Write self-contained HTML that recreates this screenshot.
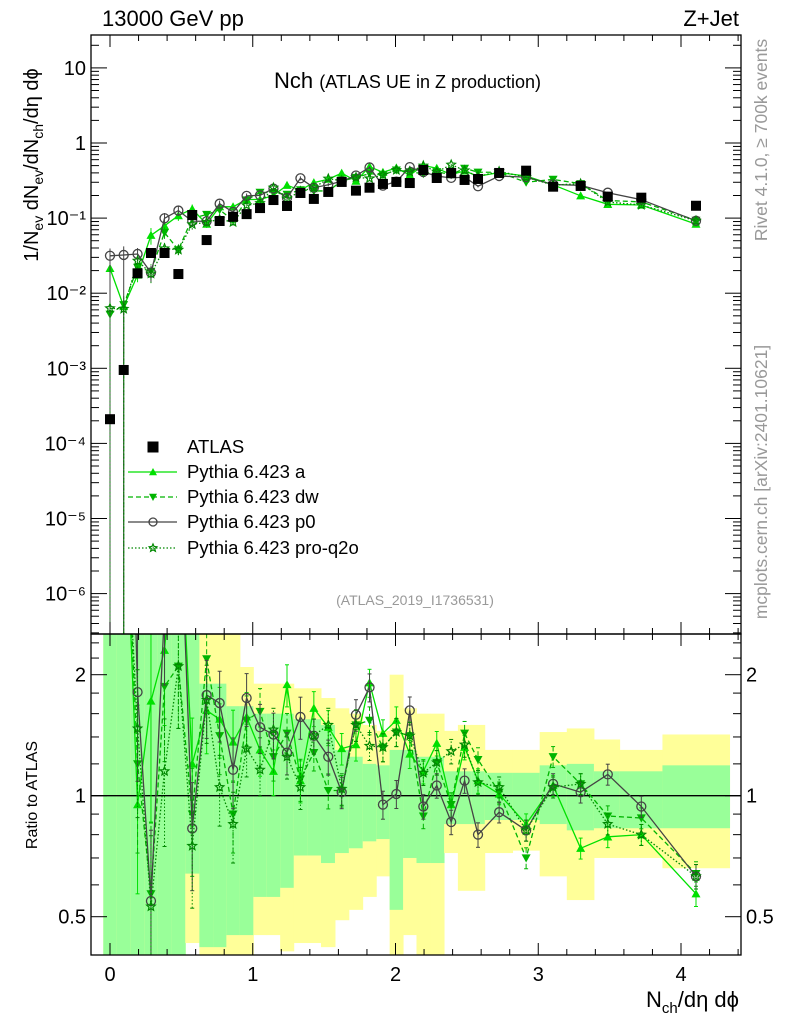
<!DOCTYPE html>
<html><head><meta charset="utf-8"><style>
html,body{margin:0;padding:0;background:#fff}
svg{display:block;font-family:"Liberation Sans",sans-serif}
</style></head><body>
<svg id="c" width="786" height="1024" viewBox="0 0 786 1024" xmlns="http://www.w3.org/2000/svg">
<g id="bands"></g>
<g id="marks"></g>
<g id="axes"></g>
<text x="102" y="26" font-size="22">13000 GeV pp</text>
<text x="739" y="26" font-size="22" text-anchor="end">Z+Jet</text>
<text x="274" y="88" font-size="22">Nch <tspan font-size="18">(ATLAS UE in Z production)</tspan></text>
<text x="415" y="605" font-size="14" fill="#999" text-anchor="middle">(ATLAS_2019_I1736531)</text>
<text transform="translate(767,140) rotate(-90)" font-size="17.5" fill="#999" text-anchor="middle">Rivet 4.1.0, ≥ 700k events</text>
<text transform="translate(767,482) rotate(-90)" font-size="17.5" fill="#999" text-anchor="middle">mcplots.cern.ch [arXiv:2401.10621]</text>
<text transform="translate(38,165) rotate(-90)" font-size="20" text-anchor="middle">1/N<tspan font-size="14" dy="5">ev</tspan><tspan dy="-5"> dN</tspan><tspan font-size="14" dy="5">ev</tspan><tspan dy="-5">/dN</tspan><tspan font-size="14" dy="5">ch</tspan><tspan dy="-5">/dη dϕ</tspan></text>
<text transform="translate(37,795) rotate(-90)" font-size="16" text-anchor="middle">Ratio to ATLAS</text>
<text x="739" y="1007" font-size="22" text-anchor="end">N<tspan font-size="15" dy="6">ch</tspan><tspan dy="-6">/dη dϕ</tspan></text>
<g id="legend"></g>
</svg>
<script>
const xs=[0.0,0.096,0.193,0.287,0.382,0.479,0.576,0.677,0.768,0.862,0.957,1.051,1.145,1.24,1.334,1.428,1.529,1.623,1.723,1.818,1.912,2.006,2.1,2.195,2.289,2.39,2.484,2.578,2.726,2.915,3.104,3.297,3.487,3.722,4.105];
const edges=[-0.047,0.048,0.145,0.24,0.335,0.43,0.527,0.626,0.722,0.815,0.91,1.004,1.098,1.192,1.287,1.381,1.478,1.576,1.673,1.77,1.865,1.959,2.053,2.147,2.242,2.34,2.437,2.531,2.625,2.82,3.01,3.2,3.39,3.57,3.87,4.34];
const atlas=[2.1e-4,9.5e-4,0.0184,0.0343,0.0343,0.018,0.110,0.051,0.0915,0.104,0.113,0.136,0.174,0.145,0.216,0.180,0.223,0.303,0.232,0.254,0.285,0.303,0.293,0.437,0.342,0.399,0.322,0.332,0.399,0.428,0.262,0.268,0.193,0.187,0.146];
const ratioA=[102,7,0.95,1.72,2.3,6,1.2,1.63,1.55,1.36,1.57,1.3,1.15,1.89,1.09,1.65,1.48,1.31,1.34,1.91,1.43,1.54,1.27,1.15,1.35,0.95,1.32,1.09,1.01,0.85,1.06,0.74,0.79,0.80,0.57];
const ratioDW=[25,7.4,1.2,0.57,1.87,2.1,0.90,2.19,1.41,0.90,1.54,1.62,1.25,1.43,1.1,1.28,1.03,1.03,1.50,1.54,1.32,1.44,1.41,0.89,1.21,0.95,1.43,1.23,1.02,0.70,1.25,1.07,0.89,0.88,0.64];
const ratioP0=[150,34,1.81,0.547,2.9,7,0.829,1.78,1.70,1.16,1.75,1.48,1.42,1.28,1.57,1.41,1.25,1.02,1.59,1.86,0.95,1.01,1.63,0.94,1.06,0.86,1.09,0.80,0.91,0.82,1.07,1.02,1.13,0.94,0.63];
const ratioQ2O=[30,6.5,1.47,0.53,1.15,2.1,0.75,1.73,1.05,0.85,1.31,1.16,1.46,1.25,1.05,1.41,1.50,1.04,1.50,1.33,1.32,1.44,1.41,1.14,1.21,1.29,1.34,1.08,1.05,0.82,1.05,1.07,0.85,0.80,0.63];
const mcErr=[0.5,0.6,0.4,0.5,0.35,0.3,0.3,0.22,0.2,0.2,0.15,0.14,0.13,0.12,0.12,0.1,0.1,0.09,0.09,0.08,0.08,0.08,0.08,0.07,0.07,0.07,0.07,0.07,0.06,0.06,0.06,0.06,0.06,0.06,0.07];
const gHi=[2.6,2.6,2.6,2.6,2.6,2.6,2.6,1.9,1.9,1.67,1.67,1.6,1.6,1.6,1.55,1.55,1.5,1.3,1.25,1.2,1.19,1.3,1.3,1.25,1.25,1.15,1.15,1.15,1.14,1.14,1.19,1.2,1.15,1.15,1.19];
const gLo=[0.39,0.39,0.39,0.39,0.39,0.39,0.64,0.42,0.42,0.45,0.45,0.56,0.56,0.59,0.71,0.71,0.68,0.72,0.74,0.77,0.78,0.52,0.7,0.68,0.68,0.85,0.85,0.85,0.87,0.87,0.85,0.82,0.83,0.83,0.83];
const yHi=[2.6,2.6,2.6,2.6,2.6,2.6,2.6,2.6,2.6,2.6,2.09,1.9,1.9,1.9,1.85,1.85,1.75,1.65,1.6,1.5,1.45,2.0,1.65,1.6,1.6,1.45,1.5,1.5,1.3,1.3,1.44,1.47,1.38,1.3,1.42];
const yLo=[0.39,0.39,0.39,0.39,0.39,0.39,0.43,0.39,0.39,0.39,0.39,0.45,0.45,0.41,0.43,0.43,0.42,0.49,0.52,0.56,0.63,0.39,0.45,0.39,0.39,0.72,0.58,0.58,0.72,0.73,0.63,0.55,0.7,0.7,0.66];
const mainTicks=["10","1","10⁻¹","10⁻²","10⁻³","10⁻⁴","10⁻⁵","10⁻⁶"];

const NS="http://www.w3.org/2000/svg";
const L=91,R=741,T=35,MB=634,RB=955;
const X=v=>110+v*142.75;
const YM=v=>143-Math.log10(v)*75.1;
const YR=v=>795.7-Math.log2(v)*121;
function el(tag,attrs,parent){const e=document.createElementNS(NS,tag);for(const k in attrs)e.setAttribute(k,attrs[k]);parent.appendChild(e);return e;}
const bands=document.getElementById('bands'),marks=document.getElementById('marks'),axes=document.getElementById('axes'),leg=document.getElementById('legend');
const clipM=el('clipPath',{id:'cm'},document.getElementById('c'));el('rect',{x:L,y:T,width:R-L,height:MB-T},clipM);
const clipR=el('clipPath',{id:'cr'},document.getElementById('c'));el('rect',{x:L,y:MB,width:R-L,height:RB-MB},clipR);
bands.setAttribute('clip-path','url(#cr)');
for(let i=0;i<xs.length;i++){
  const x0=X(edges[i]),w=X(edges[i+1])-x0;
  const yb=el('rect',{x:x0,y:YR(yHi[i]),width:w+0.5,height:YR(yLo[i])-YR(yHi[i]),fill:'#ffff99'},bands);
  
  
  const gb=el('rect',{x:x0,y:YR(gHi[i]),width:w+0.5,height:YR(gLo[i])-YR(gHi[i]),fill:'#99ff99'},bands);
  
  
}
el('line',{x1:L,x2:R,y1:YR(1),y2:YR(1),stroke:'#000','stroke-width':1.3},bands);
const gm=el('g',{'clip-path':'url(#cm)'},marks);
const gr=el('g',{'clip-path':'url(#cr)'},marks);
function marker(type,x,y,col,p,s){
  let e;
  if(type==='up')e=el('polygon',{points:`${x},${y-s} ${x-s},${y+s*0.8} ${x+s},${y+s*0.8}`,fill:col},p);
  else if(type==='down')e=el('polygon',{points:`${x},${y+s} ${x-s},${y-s*0.8} ${x+s},${y-s*0.8}`,fill:col},p);
  else if(type==='circ')e=el('circle',{cx:x,cy:y,r:s,fill:'none',stroke:col,'stroke-width':1.3},p);
  else if(type==='star'){let pts=[];for(let k=0;k<10;k++){const a=-Math.PI/2+k*Math.PI/5,r=k%2?s*0.45:s;pts.push((x+r*Math.cos(a)).toFixed(1)+','+(y+r*Math.sin(a)).toFixed(1));}e=el('polygon',{points:pts.join(' '),fill:'none',stroke:col,'stroke-width':1.2},p);}
  else e=el('rect',{x:x-s,y:y-s,width:2*s,height:2*s,fill:col},p);
  return e;
}
const series=[
 {n:'Pythia 6.423 a',r:ratioA,col:'#00e000',dash:'',m:'up',key:'pythia-a'},
 {n:'Pythia 6.423 dw',r:ratioDW,col:'#00b400',dash:'5,3',m:'down',key:'pythia-dw'},
 {n:'Pythia 6.423 p0',r:ratioP0,col:'#444444',dash:'',m:'circ',key:'pythia-p0'},
 {n:'Pythia 6.423 pro-q2o',r:ratioQ2O,col:'#008800',dash:'1.5,2',m:'star',key:'pythia-pro-q2o'}];
series.forEach(s=>{
  const vals=s.r.map((r,i)=>r*atlas[i]);
  const pm=vals.map((v,i)=>X(xs[i]).toFixed(1)+','+YM(v).toFixed(1)).join(' ');
  const lm=el('polyline',{points:pm,fill:'none',stroke:s.col,'stroke-width':1.3,'stroke-dasharray':s.dash},gm);
  
  
  const pr=s.r.map((r,i)=>X(xs[i]).toFixed(1)+','+YR(r).toFixed(1)).join(' ');
  const lr=el('polyline',{points:pr,fill:'none',stroke:s.col,'stroke-width':1.3,'stroke-dasharray':s.dash},gr);
  
  
  vals.forEach((v,i)=>{
    const x=X(xs[i]),e=mcErr[i];
    const lo=i<2?1e-9:v*(1-e*0.5),hi=v*(1+e*0.5);
    el('line',{x1:x,x2:x,y1:YM(lo),y2:YM(hi),stroke:s.col,'stroke-width':1,'stroke-dasharray':s.dash},gm);
    const m=marker(s.m,x,YM(v),s.col,gm,4.5);
    
    
    const r=s.r[i];
    el('line',{x1:x,x2:x,y1:YR(r*(1-e)),y2:YR(r*(1+e)),stroke:s.col,'stroke-width':1,'stroke-dasharray':s.dash},gr);
    el('line',{x1:x-2,x2:x+2,y1:YR(r*(1-e)),y2:YR(r*(1-e)),stroke:s.col},gr);
    el('line',{x1:x-2,x2:x+2,y1:YR(r*(1+e)),y2:YR(r*(1+e)),stroke:s.col},gr);
    const mr=marker(s.m,x,YR(r),s.col,gr,4.5);
    
    
  });
});
atlas.forEach((v,i)=>{
  const m=marker('sq',X(xs[i]),YM(v),'#000',gm,5);
  
  
});
el('rect',{x:L,y:T,width:R-L,height:MB-T,fill:'none',stroke:'#000','stroke-width':1.3},axes);
el('rect',{x:L,y:MB,width:R-L,height:RB-MB,fill:'none',stroke:'#000','stroke-width':1.3},axes);
for(let k=0;k<=22;k++){
  const v=k*0.2;const x=X(v);if(x>R)break;
  const maj=k%5===0,len=maj?12:6;
  [T,MB].forEach(y=>el('line',{x1:x,x2:x,y1:y,y2:y+len,stroke:'#000'},axes));
  [MB,RB].forEach(y=>el('line',{x1:x,x2:x,y1:y,y2:y-len,stroke:'#000'},axes));
  if(maj){const t=el('text',{x:x,y:RB+26,'font-size':20,'text-anchor':'middle'},axes);t.textContent=String(k/5);
    
    }
}
for(let d=1;d>=-7;d--){
  for(let m=1;m<10;m++){
    const v=m*Math.pow(10,d);const y=YM(v);if(y<T||y>MB)continue;
    const len=m===1?16:8;
    el('line',{x1:L,x2:L+len,y1:y,y2:y,stroke:'#000'},axes);
    el('line',{x1:R,x2:R-len,y1:y,y2:y,stroke:'#000'},axes);
  }
}
mainTicks.forEach((lab,i)=>{
  const y=YM(Math.pow(10,1-i));
  const t=el('text',{x:86,y:y+7,'font-size':20,'text-anchor':'end'},axes);t.textContent=lab;
  
  
});
[0.4,0.5,0.6,0.7,0.8,0.9,1,1.2,1.4,1.6,1.8,2,2.2,2.4].forEach(v=>{
  const y=YR(v);if(y<MB||y>RB)return;
  const maj=(v===0.5||v===1||v===2),len=maj?16:8;
  el('line',{x1:L,x2:L+len,y1:y,y2:y,stroke:'#000'},axes);
  el('line',{x1:R,x2:R-len,y1:y,y2:y,stroke:'#000'},axes);
  if(maj){[[86,'end'],[746,'start']].forEach(([x,a])=>{const t=el('text',{x:x,y:y+7,'font-size':20,'text-anchor':a},axes);t.textContent=String(v);
    
    });}
});
const legY=[447,472,497,522,548];
const legNames=['ATLAS'].concat(series.map(s=>s.n));
legNames.forEach((n,i)=>{
  const g=el('g',{},leg);
  
  
  const y=legY[i];
  if(i===0)marker('sq',153,y,'#000',g,5.5);
  else{const s=series[i-1];el('line',{x1:128,x2:177,y1:y,y2:y,stroke:s.col,'stroke-width':1.3,'stroke-dasharray':s.dash},g);
    marker(s.m,153,y,s.col,g,4);}
  const t=el('text',{x:187,y:y+6,'font-size':18.5},g);t.textContent=n;
});
</script>
</body></html>
